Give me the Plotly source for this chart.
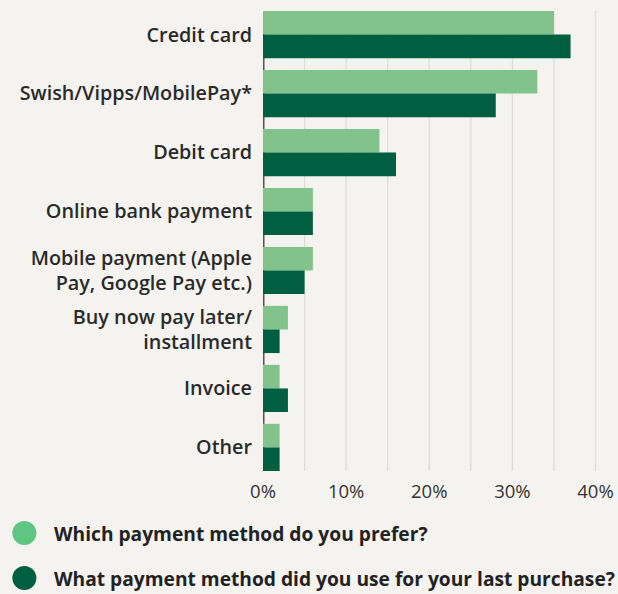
import plotly.graph_objects as go

categories = ["Credit card", "Swish/Vipps/MobilePay*", "Debit card", "Online bank payment",
              "Mobile payment (Apple<br>Pay, Google Pay etc.)", "Buy now pay later/<br>installment",
              "Invoice", "Other"]
prefer = [35, 33, 14, 6, 6, 3, 2, 2]
last_purchase = [37, 28, 16, 6, 5, 2, 3, 2]
series_names = ["Which payment method do you prefer?",
                "What payment method did you use for your last purchase?"]
x_ticks = [0, 10, 20, 30, 40]
x_grid = [5, 10, 15, 20, 25, 30, 35, 40]

BG = "#f4f3ef"
LIGHT = "#82c38b"
DARK = "#005f40"
LEG_LIGHT = "#5ec582"

W, H = 618, 594
ML, MR, MT, MB = 263, 19.5, 11, 123
PW = W - ML - MR
PH = H - MT - MB

fig = go.Figure()
fig.add_trace(go.Bar(y=categories, x=prefer, orientation="h", marker_color=LIGHT,
                     marker_line_width=0, name=series_names[0], showlegend=False))
fig.add_trace(go.Bar(y=categories, x=last_purchase, orientation="h", marker_color=DARK,
                     marker_line_width=0, name=series_names[1], showlegend=False))

fig.update_layout(
    width=W, height=H, autosize=False,
    margin=dict(l=ML, r=MR, t=MT, b=MB, pad=0, autoexpand=False),
    paper_bgcolor=BG, plot_bgcolor=BG,
    barmode="group", bargap=0.2, bargroupgap=0,
    font=dict(family="Open Sans", color="#2a2a2a"),
    xaxis=dict(range=[0, 40.3], tickvals=x_ticks, ticktext=[f"{v}%" for v in x_ticks],
               showgrid=False, zeroline=False, showline=False, ticks="", automargin=False,
               tickfont=dict(size=18.5, color="#333333", family="Open Sans"),
               ticklabelstandoff=7, fixedrange=True),
    yaxis=dict(autorange=False, range=[7.4, -0.4], showgrid=False, zeroline=False,
               showline=False, ticks="", ticklabelstandoff=10, automargin=False,
               tickfont=dict(size=19.8, color="#2a2a2a", family="Open Sans", weight=600)),
)

shapes = []
for v in x_grid:
    shapes.append(dict(type="line", xref="x", yref="paper", x0=v, x1=v, y0=0, y1=1,
                       line=dict(color="#dedcd7", width=1.2), layer="below"))
# y-axis base line (hidden behind bars, visible in gaps)
shapes.append(dict(type="line", xref="x", yref="paper", x0=0.09, x1=0.09, y0=0, y1=1,
                   line=dict(color="#555555", width=1.5), layer="below"))

# legend (custom circles + text)
leg_x = (24 - ML) / PW
for i, (col, name) in enumerate(zip([LEG_LIGHT, DARK], series_names)):
    py = 533 + i * 45
    yp = (H - MB - py) / PH
    shapes.append(dict(type="circle", xref="paper", yref="paper", xsizemode="pixel",
                       ysizemode="pixel", xanchor=leg_x, yanchor=yp,
                       x0=-12, x1=12, y0=-12, y1=12, fillcolor=col, line=dict(width=0)))
    fig.add_annotation(xref="paper", yref="paper", x=(52 - ML) / PW, y=yp,
                       xanchor="left", yanchor="middle", showarrow=False, text=name,
                       font=dict(size=19.2, color="#222222", family="Open Sans", weight=700))

fig.update_layout(shapes=shapes)
fig.write_html("out.html",
               config={"displayModeBar": False, "responsive": False},
               post_script="document.body.style.margin='0';document.body.style.background='#f4f3ef';")
